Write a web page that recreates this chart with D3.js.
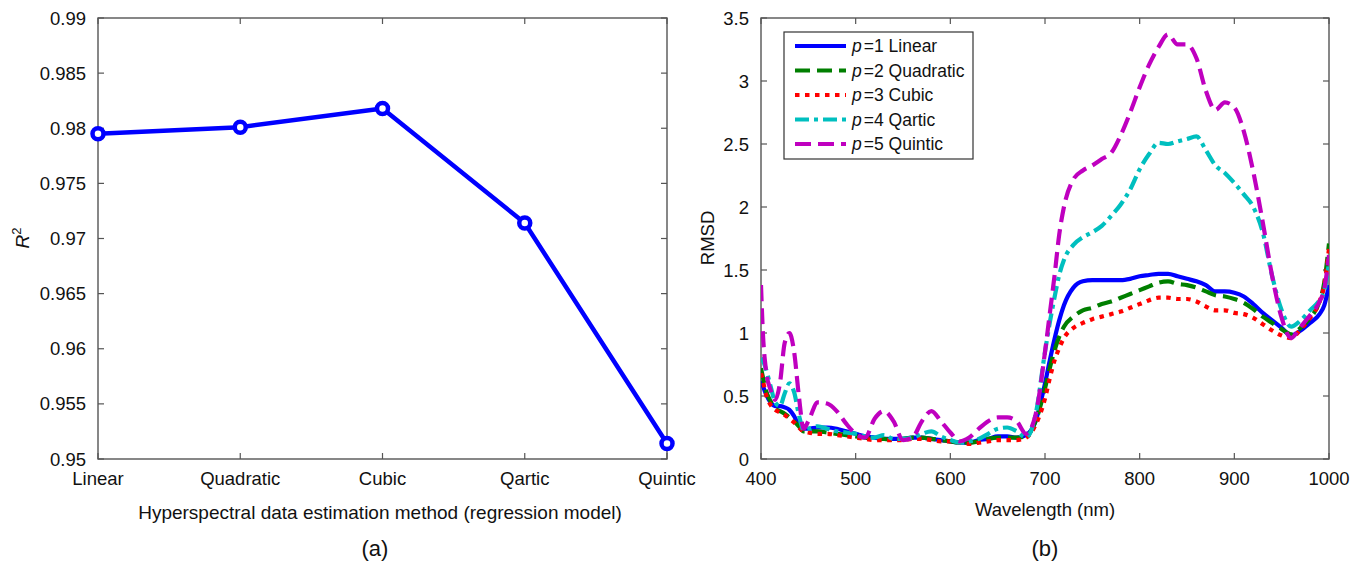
<!DOCTYPE html>
<html>
<head>
<meta charset="utf-8">
<script src="https://cdn.jsdelivr.net/npm/d3@7"></script>
<style>
  html, body { margin: 0; padding: 0; background: #fff; }
  svg { display: block; font-family: "Liberation Sans", Arial, Helvetica, sans-serif; }
  .tick-label { font-size: 18.5px; fill: #111; }
</style>
</head>
<body>
<svg id="fig" width="1362" height="564"></svg>
<script>
// ---- Panel (a): R² per regression model ----
const models = ["Linear", "Quadratic", "Cubic", "Qartic", "Quintic"];
const r2Values = [0.9795, 0.9801, 0.9818, 0.9714, 0.9514];
const r2Ticks = [0.95, 0.955, 0.96, 0.965, 0.97, 0.975, 0.98, 0.985, 0.99];

// ---- Panel (b): RMSD spectra ----
const wavelengths = [400,402,405,410,415,420,425,430,435,440,445,450,
  460,470,480,490,500,510,520,530,540,550,560,570,580,590,600,610,620,630,640,650,660,670,680,690,
  700,705,710,715,720,
  730,740,750,760,770,780,790,800,810,820,830,840,850,860,870,880,890,900,910,920,930,940,950,960,
  970,980,990,995,1000];

const rmsdLinear = [0.62,0.58,0.52,0.45,0.42,0.42,0.41,0.39,0.34,0.27,0.24,0.24,
  0.25,0.25,0.24,0.22,0.20,0.18,0.17,0.16,0.16,0.16,0.17,0.17,0.16,0.15,0.14,0.13,0.13,0.15,0.16,0.18,0.18,0.17,0.19,0.30,
  0.60,0.78,0.95,1.10,1.22,
  1.36,1.41,1.42,1.42,1.42,1.42,1.43,1.45,1.46,1.47,1.47,1.45,1.43,1.41,1.38,1.33,1.33,1.32,1.29,1.23,1.16,1.10,1.04,0.98,
  1.02,1.08,1.15,1.22,1.38];

const rmsdQuadratic = [0.72,0.65,0.55,0.46,0.40,0.38,0.36,0.33,0.30,0.26,0.22,0.22,
  0.22,0.21,0.20,0.19,0.18,0.17,0.16,0.16,0.15,0.16,0.17,0.17,0.16,0.15,0.14,0.13,0.13,0.14,0.16,0.17,0.17,0.17,0.18,0.30,
  0.56,0.72,0.86,0.97,1.05,
  1.13,1.18,1.20,1.23,1.25,1.28,1.31,1.34,1.37,1.40,1.41,1.39,1.38,1.36,1.33,1.30,1.29,1.27,1.24,1.19,1.13,1.08,1.03,0.99,
  1.04,1.12,1.25,1.40,1.71];

const rmsdCubic = [0.68,0.62,0.52,0.43,0.39,0.37,0.35,0.32,0.29,0.25,0.22,0.21,
  0.20,0.20,0.19,0.18,0.17,0.16,0.15,0.15,0.15,0.15,0.16,0.16,0.15,0.14,0.14,0.13,0.12,0.13,0.14,0.15,0.15,0.15,0.17,0.27,
  0.48,0.64,0.78,0.88,0.96,
  1.04,1.08,1.11,1.13,1.15,1.17,1.20,1.23,1.26,1.28,1.28,1.27,1.27,1.25,1.21,1.18,1.18,1.16,1.15,1.12,1.07,1.02,0.98,0.96,
  1.03,1.12,1.25,1.38,1.67];

const rmsdQartic = [0.80,0.78,0.72,0.58,0.45,0.42,0.52,0.60,0.53,0.35,0.23,0.24,
  0.26,0.24,0.22,0.21,0.20,0.18,0.17,0.19,0.16,0.16,0.17,0.20,0.22,0.18,0.15,0.13,0.14,0.16,0.20,0.24,0.25,0.22,0.17,0.35,
  0.85,1.08,1.28,1.46,1.58,
  1.70,1.76,1.80,1.85,1.93,2.02,2.14,2.30,2.42,2.51,2.50,2.52,2.54,2.56,2.45,2.33,2.27,2.19,2.10,2.00,1.80,1.45,1.18,1.05,
  1.10,1.18,1.26,1.33,1.56];

const rmsdQuintic = [1.38,1.00,0.72,0.55,0.47,0.60,0.92,1.00,0.85,0.50,0.24,0.30,
  0.45,0.44,0.38,0.28,0.20,0.17,0.32,0.38,0.30,0.15,0.17,0.30,0.38,0.30,0.21,0.14,0.17,0.24,0.30,0.33,0.33,0.30,0.20,0.35,
  0.85,1.15,1.45,1.78,2.00,
  2.22,2.29,2.33,2.38,2.43,2.57,2.75,2.95,3.13,3.27,3.37,3.29,3.29,3.18,2.92,2.77,2.83,2.79,2.60,2.28,1.88,1.45,1.12,0.96,
  1.05,1.14,1.25,1.35,1.62];

const wlTicks = [400, 500, 600, 700, 800, 900, 1000];
const rmsdTicks = [0, 0.5, 1, 1.5, 2, 2.5, 3, 3.5];

const seriesNames = ["1 Linear", "2 Quadratic", "3 Cubic", "4 Qartic", "5 Quintic"];
const seriesValues = [rmsdLinear, rmsdQuadratic, rmsdCubic, rmsdQartic, rmsdQuintic];
const seriesColors = ["#0000ff", "#007f00", "#ff0000", "#00bfbf", "#bf00bf"];
const seriesDashes = [null, "15,7", "4.5,5.5", "14,5,4,5", "16,7"];

const svg = d3.select("#fig");
const axisColor = "#555";
const tickLen = 6;

// Draws a boxed frame with inward ticks on all four sides.
function frame(g, x, y, xTickVals, yTickVals, xFmt, yFmt) {
  const [x0, x1] = x.range();
  const [y0, y1] = y.range(); // y0 bottom, y1 top
  const xa = typeof x.bandwidth === "function" ? v => x(v) : x;

  g.append("rect")
    .attr("x", x0).attr("y", y1)
    .attr("width", x1 - x0).attr("height", y0 - y1)
    .attr("fill", "none").attr("stroke", axisColor).attr("stroke-width", 1.4);

  const ticks = g.append("g").attr("stroke", axisColor).attr("stroke-width", 1.2);
  xTickVals.forEach(v => {
    const px = xa(v);
    ticks.append("line").attr("x1", px).attr("x2", px).attr("y1", y0).attr("y2", y0 - tickLen);
    ticks.append("line").attr("x1", px).attr("x2", px).attr("y1", y1).attr("y2", y1 + tickLen);
  });
  yTickVals.forEach(v => {
    const py = y(v);
    ticks.append("line").attr("x1", x0).attr("x2", x0 + tickLen).attr("y1", py).attr("y2", py);
    ticks.append("line").attr("x1", x1).attr("x2", x1 - tickLen).attr("y1", py).attr("y2", py);
  });

  g.selectAll(null).data(xTickVals).enter().append("text")
    .attr("class", "tick-label")
    .attr("x", d => xa(d)).attr("y", y0 + 26)
    .attr("text-anchor", "middle")
    .text(xFmt);
  g.selectAll(null).data(yTickVals).enter().append("text")
    .attr("class", "tick-label")
    .attr("x", x0 - 12).attr("y", d => y(d) + 6.5)
    .attr("text-anchor", "end")
    .text(yFmt);
}

// ---------- Panel (a) ----------
{
  const g = svg.append("g");
  const x = d3.scalePoint().domain(models).range([98, 667]);
  const y = d3.scaleLinear().domain([0.95, 0.99]).range([459, 18]);
  const fmt = d3.format("~g");

  frame(g, x, y, models, r2Ticks, d => d, d => fmt(+d.toFixed(3)));

  const line = d3.line().x((d, i) => x(models[i])).y(d => y(d));
  g.append("path").datum(r2Values)
    .attr("d", line)
    .attr("fill", "none").attr("stroke", "#0000ff")
    .attr("stroke-width", 4.5).attr("stroke-linejoin", "round");

  g.selectAll("circle.pt").data(r2Values).enter().append("circle")
    .attr("class", "pt")
    .attr("cx", (d, i) => x(models[i])).attr("cy", d => y(d))
    .attr("r", 5.5).attr("fill", "#fff")
    .attr("stroke", "#0000ff").attr("stroke-width", 4.5);

  g.append("text")
    .attr("x", 380).attr("y", 519)
    .attr("text-anchor", "middle").attr("font-size", 19).attr("fill", "#111")
    .text("Hyperspectral data estimation method (regression model)");

  const yl = g.append("text")
    .attr("transform", "translate(29,238) rotate(-90)")
    .attr("text-anchor", "middle").attr("font-size", 19).attr("fill", "#111");
  yl.append("tspan").attr("font-style", "italic").text("R");
  yl.append("tspan").attr("font-size", 13).attr("dy", -8).text("2");

  g.append("text")
    .attr("x", 375).attr("y", 556)
    .attr("text-anchor", "middle").attr("font-size", 22).attr("fill", "#111")
    .text("(a)");
}

// ---------- Panel (b) ----------
{
  const g = svg.append("g");
  const x = d3.scaleLinear().domain([400, 1000]).range([761, 1329]);
  const y = d3.scaleLinear().domain([0, 3.5]).range([459, 18]);

  frame(g, x, y, wlTicks, rmsdTicks, d => d, d => d);

  g.append("clipPath").attr("id", "clipB")
    .append("rect").attr("x", 761).attr("y", 18).attr("width", 568).attr("height", 441);

  const line = d3.line()
    .x((d, i) => x(wavelengths[i]))
    .y(d => y(d))
    .curve(d3.curveMonotoneX);

  seriesValues.forEach((vals, k) => {
    g.append("path").datum(vals)
      .attr("d", line)
      .attr("clip-path", "url(#clipB)")
      .attr("fill", "none")
      .attr("stroke", seriesColors[k])
      .attr("stroke-width", 4.2)
      .attr("stroke-linejoin", "round")
      .attr("stroke-dasharray", seriesDashes[k]);
  });

  // legend
  const lg = g.append("g");
  lg.append("rect").attr("x", 784).attr("y", 32).attr("width", 189).attr("height", 127)
    .attr("fill", "#fff").attr("stroke", "#333").attr("stroke-width", 1.2);
  seriesNames.forEach((name, k) => {
    const cy = 46 + k * 24.5;
    lg.append("line").attr("x1", 795).attr("x2", 846).attr("y1", cy).attr("y2", cy)
      .attr("stroke", seriesColors[k]).attr("stroke-width", 4.2)
      .attr("stroke-dasharray", seriesDashes[k]);
    const t = lg.append("text").attr("x", 852).attr("y", cy + 6)
      .attr("font-size", 17.5).attr("fill", "#111");
    t.append("tspan").attr("font-style", "italic").text("p");
    t.append("tspan").attr("dx", 2).text("=" + name);
  });

  g.append("text")
    .attr("x", 1045).attr("y", 516)
    .attr("text-anchor", "middle").attr("font-size", 18.5).attr("fill", "#111")
    .text("Wavelength (nm)");

  g.append("text")
    .attr("transform", "translate(714,238) rotate(-90)")
    .attr("text-anchor", "middle").attr("font-size", 18.5).attr("fill", "#111")
    .text("RMSD");

  g.append("text")
    .attr("x", 1045).attr("y", 556)
    .attr("text-anchor", "middle").attr("font-size", 22).attr("fill", "#111")
    .text("(b)");
}
</script>
</body>
</html>
